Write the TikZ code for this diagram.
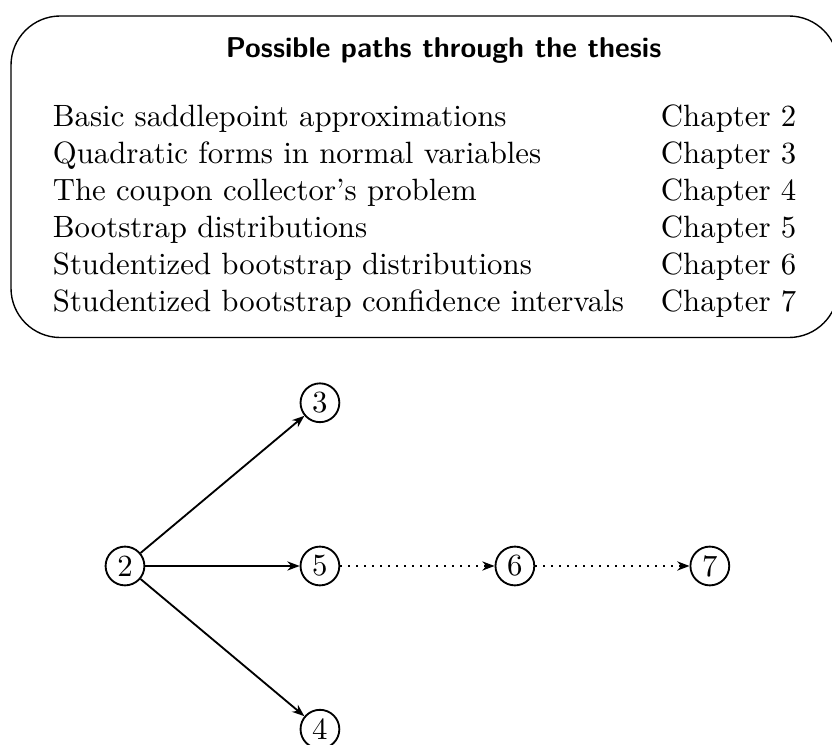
\documentclass[tikz,border=0pt]{standalone}
\usepackage{tikz}
\usetikzlibrary{arrows.meta,positioning}

\begin{document}
\begin{tikzpicture}[
    x=0.3247pt, y=-0.3247pt,
    panel/.style={draw=black, line width=0.45pt, rounded corners=16pt, inner xsep=13.6pt, inner ysep=5pt, outer sep=0pt, anchor=north west},
    chap/.style={draw=black, circle, semithick, minimum size=12.6pt, inner sep=0pt},
    path_arrow/.style={-{Stealth[length=4pt,width=3pt]}, semithick},
    opt_arrow/.style={path_arrow, dotted},
    node distance=53pt and 63.3pt, on grid
]

\useasboundingbox (0,0) rectangle (832,745);

\node[panel] (paths) at (11,16) {%
    \begin{tabular}{@{}ll@{}}
    \multicolumn{2}{c}{\hspace*{12.4pt}\fontsize{9.3pt}{11pt}\sffamily\bfseries Possible paths through the thesis}\\[10.4pt]
    Basic saddlepoint approximations & Chapter 2\\
    Quadratic forms in normal variables & Chapter 3\\
    The coupon collector's problem & Chapter 4\\
    Bootstrap distributions & Chapter 5\\
    Studentized bootstrap distributions & Chapter 6\\
    Studentized bootstrap confidence intervals & Chapter 7
    \end{tabular}
};

\node[chap] (c2) at (125,566) {2};
\node[chap, right=of c2] (c5) {5};
\node[chap, above=of c5] (c3) {3};
\node[chap, below=of c5] (c4) {4};
\node[chap, right=of c5] (c6) {6};
\node[chap, right=of c6] (c7) {7};

\draw[path_arrow] (c2) -- (c3);
\draw[path_arrow] (c2) -- (c5);
\draw[path_arrow] (c2) -- (c4);
\draw[opt_arrow] (c5) -- (c6);
\draw[opt_arrow] (c6) -- (c7);

\end{tikzpicture}
\end{document}
